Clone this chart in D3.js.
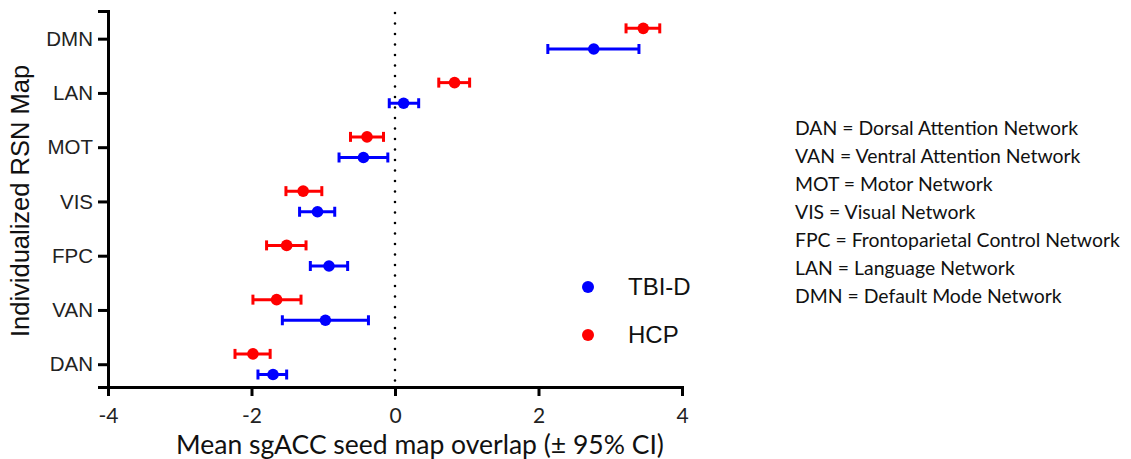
<!DOCTYPE html>
<html>
<head>
<meta charset="utf-8">
<script src="https://cdn.jsdelivr.net/npm/d3@7"></script>
<style>
  body { margin: 0; background: #fff; }
  svg { display: block; }
</style>
</head>
<body>
<svg width="1131" height="459"></svg>
<script>
// networks, bottom to top
var networks = ["DAN", "VAN", "FPC", "VIS", "MOT", "LAN", "DMN"];

// HCP means and 95% CI
var hcpMean = [-1.98, -1.65, -1.51, -1.28, -0.39, 0.83, 3.46];
var hcpLow  = [-2.23, -1.98, -1.79, -1.52, -0.62, 0.61, 3.22];
var hcpHigh = [-1.74, -1.31, -1.24, -1.02, -0.16, 1.04, 3.69];

// TBI-D means and 95% CI
var tbiMean = [-1.70, -0.97, -0.92, -1.08, -0.44, 0.12, 2.77];
var tbiLow  = [-1.91, -1.57, -1.18, -1.33, -0.78, -0.08, 2.13];
var tbiHigh = [-1.51, -0.37, -0.66, -0.84, -0.10, 0.33, 3.40];

var xTicks = [-4, -2, 0, 2, 4];

var abbrevs = [
    "DAN = Dorsal Attention Network",
    "VAN = Ventral Attention Network",
    "MOT = Motor Network",
    "VIS = Visual Network",
    "FPC = Frontoparietal Control Network",
    "LAN = Language Network",
    "DMN = Default Mode Network"
];

var svg = d3.select("svg");

var x = d3.scaleLinear().domain([-4, 4]).range([108, 682]);
var y = d3.scaleLinear().domain([-0.42, 6.51]).range([387, 11]);

function buildSeries(mean, low, high, off) {
    return networks.map(function (n, i) {
        return { pos: i + off, m: mean[i], lo: low[i], hi: high[i] };
    });
}
var hcp = buildSeries(hcpMean, hcpLow, hcpHigh, 0.19);
var tbi = buildSeries(tbiMean, tbiLow, tbiHigh, -0.19);

// zero reference line
svg.append("line")
    .attr("x1", x(0)).attr("x2", x(0))
    .attr("y1", y.range()[1] + 2).attr("y2", y.range()[0])
    .style("stroke", "#000")
    .style("stroke-width", 2.6)
    .style("stroke-linecap", "round")
    .style("stroke-dasharray", "0,10.5");

function drawSeries(data, color) {
    var g = svg.append("g");
    var bars = g.selectAll("g").data(data).enter().append("g");
    bars.append("line")
        .attr("x1", function (d) { return x(d.lo); })
        .attr("x2", function (d) { return x(d.hi); })
        .attr("y1", function (d) { return y(d.pos); })
        .attr("y2", function (d) { return y(d.pos); })
        .style("stroke", color).style("stroke-width", 3);
    bars.append("line")
        .attr("x1", function (d) { return x(d.lo); })
        .attr("x2", function (d) { return x(d.lo); })
        .attr("y1", function (d) { return y(d.pos) - 5; })
        .attr("y2", function (d) { return y(d.pos) + 5; })
        .style("stroke", color).style("stroke-width", 3);
    bars.append("line")
        .attr("x1", function (d) { return x(d.hi); })
        .attr("x2", function (d) { return x(d.hi); })
        .attr("y1", function (d) { return y(d.pos) - 5; })
        .attr("y2", function (d) { return y(d.pos) + 5; })
        .style("stroke", color).style("stroke-width", 3);
    bars.append("circle")
        .attr("cx", function (d) { return x(d.m); })
        .attr("cy", function (d) { return y(d.pos); })
        .attr("r", 5.8)
        .style("fill", color);
}
drawSeries(tbi, "#0000ff");
drawSeries(hcp, "#ff0000");

// axes
var xAxis = svg.append("g")
    .attr("transform", "translate(0," + y.range()[0] + ")")
    .call(d3.axisBottom(x).tickValues(xTicks).tickSize(9).tickPadding(12)
        .tickFormat(function (d) { return String(d); }));
var yAxis = svg.append("g")
    .attr("transform", "translate(" + x.range()[0] + ",0)")
    .call(d3.axisLeft(y).tickValues(d3.range(networks.length))
        .tickFormat(function (d) { return networks[d]; })
        .tickSize(10).tickPadding(5));

[xAxis, yAxis].forEach(function (a) {
    a.select(".domain").style("stroke", "#000").style("stroke-width", 3);
    a.selectAll(".tick line").style("stroke", "#000").style("stroke-width", 3);
    a.selectAll("text")
        .style("font-family", "'Liberation Sans', Arial, sans-serif")
        .style("font-size", "20.5px")
        .style("fill", "#222");
});
xAxis.selectAll("text").style("font-family", "Lato, 'Open Sans', sans-serif").style("font-size", "21px");

// axis titles
svg.append("text")
    .attr("x", 420).attr("y", 454)
    .attr("text-anchor", "middle")
    .style("font-family", "Lato, 'Open Sans', sans-serif")
    .style("font-size", "26.5px")
    .style("fill", "#111")
    .text("Mean sgACC seed map overlap (\u00b1 95% CI)");

svg.append("text")
    .attr("transform", "translate(29,201) rotate(-90)")
    .attr("text-anchor", "middle")
    .style("font-family", "'Liberation Sans', Arial, sans-serif")
    .style("font-size", "25.5px")
    .style("fill", "#111")
    .text("Individualized RSN Map");

// legend
var legend = [
    { name: "TBI-D", color: "#0000ff" },
    { name: "HCP", color: "#ff0000" }
];
var lg = svg.append("g").selectAll("g").data(legend).enter().append("g")
    .attr("transform", function (d, i) { return "translate(588," + (287 + i * 48) + ")"; });
lg.append("circle").attr("r", 6).style("fill", function (d) { return d.color; });
lg.append("text")
    .attr("x", 40).attr("dy", "0.35em")
    .style("font-family", "'Liberation Sans', Arial, sans-serif")
    .style("font-size", "24px")
    .style("fill", "#111")
    .text(function (d) { return d.name; });

// abbreviation key
svg.append("g").selectAll("text").data(abbrevs).enter().append("text")
    .attr("x", 795)
    .attr("y", function (d, i) { return 128 + i * 28; })
    .attr("dy", "0.35em")
    .style("font-family", "Lato, 'Open Sans', sans-serif")
    .style("font-size", "19.4px")
    .style("fill", "#111")
    .text(function (d) { return d; });
</script>
</body>
</html>
